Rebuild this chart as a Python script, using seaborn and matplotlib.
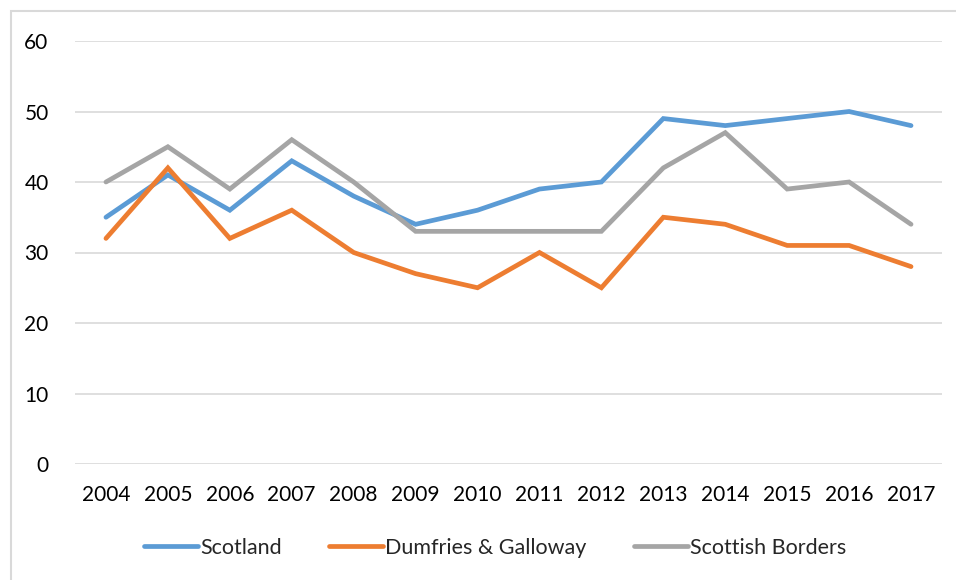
import matplotlib
matplotlib.use("Agg")
import matplotlib.pyplot as plt
import seaborn as sns
import pandas as pd
from matplotlib.patches import Rectangle
from matplotlib.lines import Line2D

years = ["2004", "2005", "2006", "2007", "2008", "2009", "2010",
         "2011", "2012", "2013", "2014", "2015", "2016", "2017"]
scotland = [35, 41, 36, 43, 38, 34, 36, 39, 40, 49, 48, 49, 50, 48]
dumfries = [32, 42, 32, 36, 30, 27, 25, 30, 25, 35, 34, 31, 31, 28]
borders = [40, 45, 39, 46, 40, 33, 33, 33, 33, 42, 47, 39, 40, 34]
series_names = ["Scotland", "Dumfries & Galloway", "Scottish Borders"]
colors = ["#5B9BD5", "#ED7D31", "#A5A5A5"]

rows = []
for name, vals in zip(series_names, [scotland, dumfries, borders]):
    for y, v in zip(years, vals):
        rows.append({"Year": y, "Value": v, "Series": name})
df = pd.DataFrame(rows)

sns.set_theme(style="white")
plt.rcParams['font.family'] = ['Lato', 'DejaVu Sans']

W, H = 956, 580
fig = plt.figure(figsize=(W / 100, H / 100), dpi=100)
ax = fig.add_axes([75 / W, 1 - 464 / H, (942 - 75) / W, (464 - 41) / H])

# outer frame
fig.patches.append(Rectangle((11 / W, -0.1), 1.2, 1 - 11 / H + 0.1,
                             transform=fig.transFigure, fill=False,
                             edgecolor="#d9d9d9", linewidth=1.5, zorder=0))

sns.lineplot(data=df, x="Year", y="Value", hue="Series", palette=colors,
             hue_order=series_names, ax=ax, linewidth=3.4, sort=False,
             legend=False)
for ln in ax.lines:
    ln.set_solid_capstyle("round")
    ln.set_solid_joinstyle("miter")

ax.set_xlim(-0.5, len(years) - 0.5)
ax.set_ylim(0, 60)
ax.set_yticks(range(0, 61, 10))
ax.yaxis.grid(True, color="#d9d9d9", linewidth=1.2)
ax.set_axisbelow(True)
for s in ax.spines.values():
    s.set_visible(False)
ax.tick_params(axis="both", length=0, labelsize=15, colors="#000000")
ax.tick_params(axis="y", pad=19)
ax.tick_params(axis="x", pad=15)
ax.set_xlabel("")
ax.set_ylabel("")

handles = [Line2D([0], [0], color=c, linewidth=3.4, solid_capstyle="round") for c in colors]
fig.legend(handles, series_names, loc="center", bbox_to_anchor=(0.518, 1 - 548 / H),
           ncol=3, frameon=False, fontsize=15.5, handlelength=2.5,
           handletextpad=0.1, columnspacing=2.2)

fig.savefig("out.png", dpi=100, facecolor="white")
